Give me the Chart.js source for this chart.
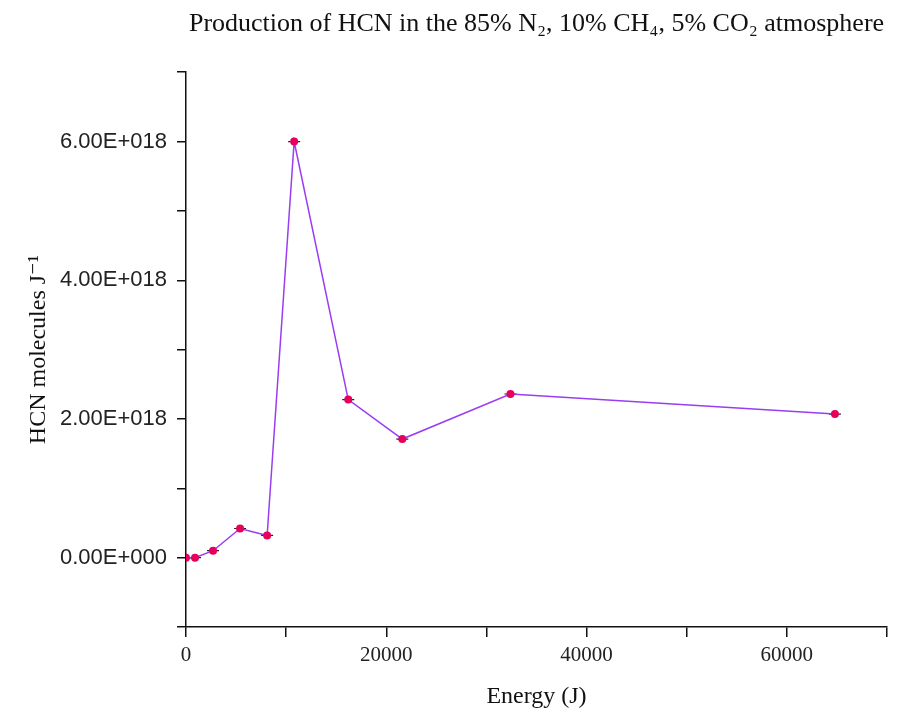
<!DOCTYPE html>
<html>
<head>
<meta charset="utf-8">
<script src="https://cdn.jsdelivr.net/npm/chart.js@4/dist/chart.umd.min.js"></script>
<style>
    html, body { margin: 0; padding: 0; background: #fff; }
    #wrap { width: 907px; height: 711px; }
</style>
</head>
<body>
<div id="wrap"><canvas id="hcnChart" width="907" height="711"></canvas></div>
<script>
// Data
const energy = [0, 900, 2700, 5400, 8100, 10800, 16200, 21600, 32400, 64800];
const hcn = [0, 0, 1.0e17, 4.2e17, 3.2e17, 6.0e18, 2.28e18, 1.71e18, 2.36e18, 2.07e18];
const xLabelTicks = [0, 20000, 40000, 60000];
const yLabelTicks = [0, 2e18, 4e18, 6e18];

const serif = "'Liberation Serif', 'DejaVu Serif', serif";
const sans = "'Liberation Sans', Arial, sans-serif";

const points = energy.map((e, i) => ({ x: e, y: hcn[i] }));

function sciLabel(v) {
    if (v === 0) return '0.00E+000';
    const exp = Math.floor(Math.log10(Math.abs(v)));
    const mant = v / Math.pow(10, exp);
    return mant.toFixed(2) + 'E+' + String(exp).padStart(3, '0');
}

const ctx = document.getElementById('hcnChart').getContext('2d');
new Chart(ctx, {
    type: 'scatter',
    data: {
        datasets: [{
            data: points,
            showLine: true,
            borderColor: '#9a3cf2',
            borderWidth: 1.5,
            pointBackgroundColor: '#e6005c',
            pointBorderWidth: 0,
            pointRadius: 4,
            order: 0
        }, {
            // small black dash drawn through each marker
            data: points,
            showLine: false,
            pointStyle: 'line',
            pointRadius: 6,
            pointBorderColor: '#222',
            pointBorderWidth: 1.2,
            order: 1
        }]
    },
    options: {
        responsive: false,
        animation: false,
        layout: { padding: { left: 0, right: 20, top: 0, bottom: 0 } },
        plugins: {
            legend: { display: false },
            tooltip: { enabled: false },
            title: {
                display: true,
                fullSize: false,
                text: 'Production of HCN in the 85% N\u2082, 10% CH\u2084, 5% CO\u2082 atmosphere',
                color: '#111',
                font: { family: serif, size: 26, weight: 'normal' },
                padding: { top: 9, bottom: 32 }
            }
        },
        scales: {
            x: {
                type: 'linear',
                min: 0,
                max: 70000,
                afterFit: s => { s.height = 84; },
                ticks: {
                    stepSize: 10000,
                    autoSkip: false,
                    maxRotation: 0,
                    color: '#222',
                    padding: 6,
                    font: { family: serif, size: 21 },
                    callback: v => xLabelTicks.includes(v) ? String(v) : ''
                },
                grid: {
                    drawOnChartArea: false,
                    drawTicks: true,
                    tickLength: 10,
                    color: '#111',
                    lineWidth: 1.5
                },
                border: { display: true, color: '#111', width: 1.5 },
                title: {
                    display: true,
                    text: 'Energy (J)',
                    color: '#111',
                    font: { family: serif, size: 24 },
                    padding: { top: 0, bottom: 0 }
                }
            },
            y: {
                type: 'linear',
                min: -1e18,
                max: 7e18,
                afterFit: s => { s.width = 186; },
                ticks: {
                    stepSize: 1e18,
                    autoSkip: false,
                    color: '#222',
                    padding: 10,
                    font: { family: sans, size: 22 },
                    callback: v => {
                        const k = Math.round(v / 1e18) * 1e18;
                        return yLabelTicks.includes(k) && Math.abs(v - k) < 1e15 ? sciLabel(k) : '';
                    }
                },
                grid: {
                    drawOnChartArea: false,
                    drawTicks: true,
                    tickLength: 9,
                    color: '#111',
                    lineWidth: 1.5
                },
                border: { display: true, color: '#111', width: 1.5 },
                title: {
                    display: true,
                    text: 'HCN molecules J\u207B\u00B9',
                    color: '#111',
                    font: { family: serif, size: 24 },
                    padding: { top: 24, bottom: 0 }
                }
            }
        }
    },
    plugins: [{
        id: 'whiteBg',
        beforeDraw: chart => {
            const c = chart.ctx;
            c.save();
            c.fillStyle = '#fff';
            c.fillRect(0, 0, chart.width, chart.height);
            c.restore();
        }
    }]
});
</script>
</body>
</html>
